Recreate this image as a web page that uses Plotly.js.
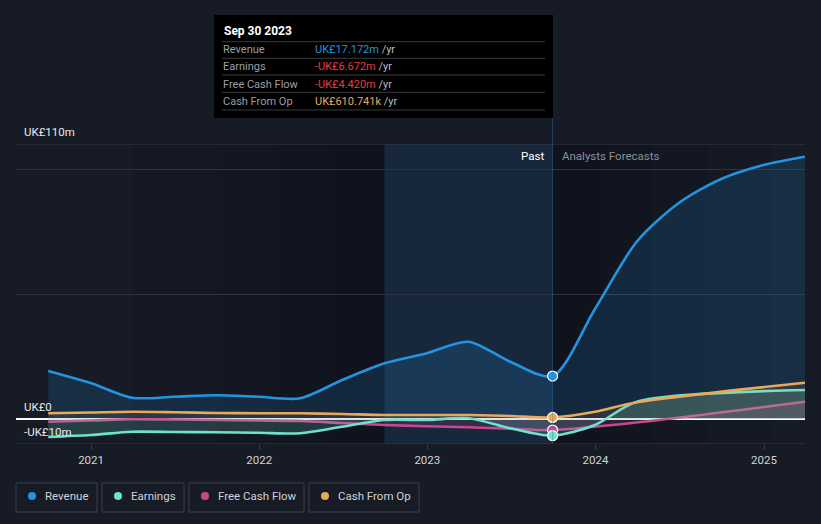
<!DOCTYPE html>
<html>
<head>
<meta charset="utf-8">
<script src="https://cdn.plot.ly/plotly-3.0.1.min.js"></script>
<style>
html,body{margin:0;padding:0;background:#161b26;}
#chart{width:821px;height:524px;}
</style>
</head>
<body>
<div id="chart"></div>
<script>
// ---- data (UK£ millions) ----
const pastDates = ['2020-09-30','2020-12-31','2021-03-31','2021-06-30','2021-09-30','2021-12-31','2022-03-31','2022-06-30','2022-09-30','2022-12-31','2023-03-31','2023-06-30','2023-09-30'];
const revenuePast  = [19.2, 14.4, 8.5, 8.9, 9.5, 8.9, 8.3, 15.6, 22.3, 26.3, 30.9, 22.9, 17.172];
const earningsPast = [-7.2, -6.4, -5.1, -5.2, -5.3, -5.5, -5.7, -3.1, -0.4, -0.4, 0.3, -3.7, -6.672];
const fcfPast      = [-1.1, -0.6, -0.1, -0.2, -0.4, -0.6, -0.8, -1.6, -2.4, -2.9, -3.3, -3.9, -4.420];
const cfoPast      = [2.3, 2.6, 2.9, 2.7, 2.4, 2.3, 2.3, 2.0, 1.6, 1.6, 1.6, 1.2, 0.611];

const revenueFcDates = ['2023-09-30','2023-12-31','2024-03-31','2024-06-30','2024-09-30','2024-12-31','2025-03-31'];
const revenueFc      = [17.172, 44, 71, 86.4, 96, 101.6, 104.9];
const earningsFcDates = ['2023-09-30','2023-12-31','2024-03-31','2025-03-31'];
const earningsFc      = [-6.672, -2.4, 6.9, 11.6];
const fcfFcDates = ['2023-09-30','2024-03-31','2025-03-31'];
const fcfFc      = [-4.420, -1.4, 6.9];
const cfoFcDates = ['2023-09-30','2023-12-31','2024-03-31','2025-03-31'];
const cfoFc      = [0.611, 2.9, 6.7, 14.5];

const seriesNames = ['Revenue','Earnings','Free Cash Flow','Cash From Op'];
const tipDate = 'Sep 30 2023';
const tipValues = ['UK£17.172m','-UK£6.672m','-UK£4.420m','UK£610.741k'];
const yTickVals = [-10, 0, 50, 100, 110];
const yTickText = ['-UK£10m','UK£0','','','UK£110m'];
const xTickVals = ['2021-01-01','2022-01-01','2023-01-01','2024-01-01','2025-01-01'];
const xTickText = ['2021','2022','2023','2024','2025'];

// ---- styling ----
const colors = {rev:'#2394df', earn:'#6ee2cf', fcf:'#c6488d', cfo:'#e8a95c'};
const fills  = {rev:'rgba(35,148,223,0.16)', earn:'rgba(110,226,207,0.18)', fcf:'rgba(198,72,141,0.18)', cfo:'rgba(232,169,92,0.10)'};

function series(x, y, key, fill){
  return {x:x, y:y, type:'scatter', mode:'lines', fill:'tozeroy', fillcolor:fill,
    line:{color:colors[key], width:2.6, shape:'spline', smoothing:0.8}, hoverinfo:'skip', showlegend:false};
}
const traces = [
  series(pastDates.concat(revenueFcDates.slice(1)), revenuePast.concat(revenueFc.slice(1)), 'rev', fills.rev),
  series(pastDates.concat(fcfFcDates.slice(1)), fcfPast.concat(fcfFc.slice(1)), 'fcf', fills.fcf),
  series(pastDates.concat(earningsFcDates.slice(1)), earningsPast.concat(earningsFc.slice(1)), 'earn', fills.earn),
  series(pastDates.concat(cfoFcDates.slice(1)), cfoPast.concat(cfoFc.slice(1)), 'cfo', fills.cfo),
  {x:[pastDates[12],pastDates[12],pastDates[12],pastDates[12]],
   y:[revenuePast[12], cfoPast[12], fcfPast[12], earningsPast[12]],
   type:'scatter', mode:'markers', hoverinfo:'skip', showlegend:false,
   marker:{size:10, color:[colors.rev, colors.cfo, colors.fcf, colors.earn], line:{color:'#ffffff', width:1.2}}}
];

// pixel helpers for paper coords (plot area x:16..805, y:144..444)
const px = v => (v-16)/789;
const py = v => (444-v)/300;

const shapes = [];
// darkening gradient before past region
['2021-04-01','2021-10-01','2022-02-01','2022-06-01'].forEach(s=>{
  shapes.push({type:'rect', layer:'below', xref:'x', yref:'paper', x0:s, x1:'2022-09-30', y0:0, y1:1, fillcolor:'rgba(0,0,0,0.05)', line:{width:0}});
});
// darkening gradient after past region
['2025-01-15','2024-09-01','2024-05-01','2024-01-15'].forEach(s=>{
  shapes.push({type:'rect', layer:'below', xref:'x', yref:'paper', x0:'2023-09-30', x1:s, y0:0, y1:1, fillcolor:'rgba(0,0,0,0.05)', line:{width:0}});
});
// past region
shapes.push({type:'rect', layer:'below', xref:'x', yref:'paper', x0:'2022-09-30', x1:'2023-09-30', y0:0, y1:1, fillcolor:'rgba(30,115,185,0.16)', line:{width:0}});
// edge gridlines (top and bottom of value range)
[yTickVals[0], yTickVals[yTickVals.length-1]].forEach(v=>{
  shapes.push({type:'line', layer:'below', xref:'paper', yref:'y', x0:0, x1:1, y0:v, y1:v, line:{color:'#353b46', width:1}});
});
// hover line
shapes.push({type:'line', xref:'x', yref:'paper', x0:'2023-09-30', x1:'2023-09-30', y0:0, y1:py(118), line:{color:'rgba(60,120,175,0.4)', width:1}});
// tooltip box
shapes.push({type:'rect', xref:'paper', yref:'paper', x0:px(214), x1:px(553), y0:py(118), y1:py(15), fillcolor:'#000000', line:{width:0}});
[41.7, 58.3, 75, 92.3, 110].forEach(v=>{
  shapes.push({type:'line', xref:'paper', yref:'paper', x0:px(222), x1:px(545), y0:py(v), y1:py(v), line:{color:'#3b3b3b', width:1}});
});
// legend boxes
const legBoxes = [[16,97],[102,184],[189,304],[309,419]];
const legDots = [32,118,205,325];
const legText = [44,130,217,337];
const legColors = [colors.rev, colors.earn, colors.fcf, colors.cfo];
legBoxes.forEach(b=>{
  shapes.push({type:'rect', xref:'paper', yref:'paper', x0:px(b[0]), x1:px(b[1]), y0:py(512), y1:py(483), fillcolor:'rgba(0,0,0,0)', line:{color:'#3a404b', width:1}});
});
legDots.forEach((d,i)=>{
  shapes.push({type:'circle', xref:'paper', yref:'paper', xsizemode:'pixel', ysizemode:'pixel', xanchor:px(d), yanchor:py(496), x0:-4, x1:4, y0:-4, y1:4, fillcolor:legColors[i], line:{width:0}});
});

const annotations = [];
const F = 'Roboto, "Open Sans", sans-serif';
annotations.push({xref:'paper', yref:'paper', x:px(222), y:py(31), xanchor:'left', yanchor:'middle', showarrow:false, text:'<b>'+tipDate+'</b>', font:{family:F, size:12, color:'#ffffff'}});
const tipRowsY = [49.3, 66.5, 84, 101];
const tipColors = [colors.rev, '#e63d3d', '#e63d3d', colors.cfo];
seriesNames.forEach((n,i)=>{
  annotations.push({xref:'paper', yref:'paper', x:px(221), y:py(tipRowsY[i]), xanchor:'left', yanchor:'middle', showarrow:false, text:n, font:{family:F, size:11, color:'#9a9ea6'}});
  annotations.push({xref:'paper', yref:'paper', x:px(313), y:py(tipRowsY[i]), xanchor:'left', yanchor:'middle', showarrow:false,
    text:'<span style="color:'+tipColors[i]+'">'+tipValues[i]+'</span> <span style="color:#b8bcc4">/yr</span>', font:{family:F, size:11, color:'#ffffff'}});
});
annotations.push({xref:'paper', yref:'paper', x:px(546), y:py(156), xanchor:'right', yanchor:'middle', showarrow:false, text:'Past', font:{family:F, size:11.5, color:'#ffffff'}});
annotations.push({xref:'paper', yref:'paper', x:px(560), y:py(156), xanchor:'left', yanchor:'middle', showarrow:false, text:'Analysts Forecasts', font:{family:F, size:11.5, color:'#8c9099'}});
seriesNames.forEach((n,i)=>{
  annotations.push({xref:'paper', yref:'paper', x:px(legText[i]-1), y:py(496), xanchor:'left', yanchor:'middle', showarrow:false, text:n, font:{family:F, size:11.5, color:'#d0d3d8'}});
});

const layout = {
  width:821, height:524,
  margin:{l:16, r:16, t:144, b:80, pad:0},
  paper_bgcolor:'#161b26', plot_bgcolor:'#161b26',
  showlegend:false,
  font:{family:F, color:'#d0d3d8'},
  xaxis:{type:'date', range:['2020-07-22','2025-03-31'], tickvals:xTickVals, ticktext:xTickText,
    showgrid:false, zeroline:false, showline:false,
    ticks:'outside', ticklen:5, tickcolor:'#3a404b', tickfont:{family:F, size:11.5, color:'#d0d3d8'}, fixedrange:true},
  yaxis:{range:[-10,110], tickvals:yTickVals, ticktext:yTickText, showgrid:true, gridcolor:'#2e343f', gridwidth:1,
    zeroline:true, zerolinecolor:'#ffffff', zerolinewidth:1.5, showline:false, ticks:'',
    ticklabelposition:'inside', ticklabelshift:-12, ticklabelstandoff:5, ticklabeloverflow:'allow',
    tickfont:{family:F, size:11.5, color:'#e6e8eb'}, fixedrange:true},
  shapes:shapes,
  annotations:annotations
};
Plotly.newPlot('chart', traces, layout, {displayModeBar:false, staticPlot:true});
</script>
</body>
</html>
